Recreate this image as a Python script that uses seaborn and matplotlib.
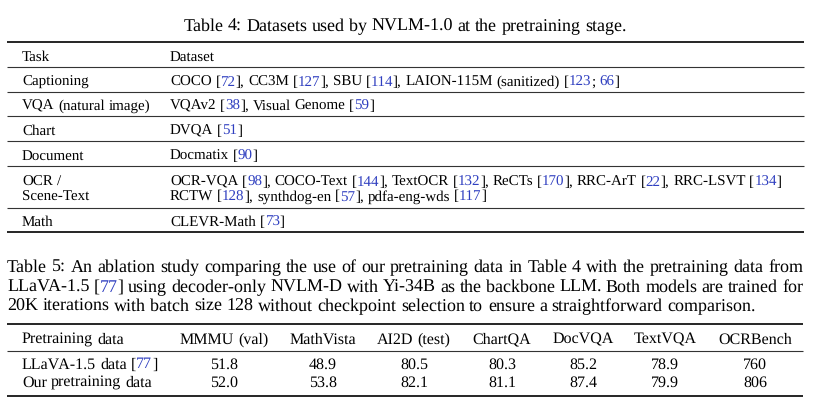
import re
import numpy as np
import pandas as pd
import matplotlib
matplotlib.use("Agg")
import matplotlib.pyplot as plt
import seaborn as sns

# Table 4 data
tab4_title = "Table 4: Datasets used by NVLM-1.0 at the pretraining stage."
tasks = ["Task", "Captioning", "VQA (natural image)", "Chart", "Document",
         "OCR /\nScene-Text", "Math"]
# citation numbers in {} are drawn blue
datasets = [
    "Dataset",
    "COCO [{72}], CC3M [{127}], SBU [{114}], LAION-115M (sanitized) [{123}; {66}]",
    "VQAv2 [{38}], Visual Genome [{59}]",
    "DVQA [{51}]",
    "Docmatix [{90}]",
    "OCR-VQA [{98}], COCO-Text [{144}], TextOCR [{132}], ReCTs [{170}], RRC-ArT [{22}], RRC-LSVT [{134}]\n"
    "RCTW [{128}], synthdog-en [{57}], pdfa-eng-wds [{117}]",
    "CLEVR-Math [{73}]",
]

# Table 5 data
tab5_caption = [
    "Table 5: An ablation study comparing the use of our pretraining data in Table 4 with the pretraining data from",
    "LLaVA-1.5 [{77}] using decoder-only NVLM-D with Yi-34B as the backbone LLM. Both models are trained for",
    "20K iterations with batch size 128 without checkpoint selection to ensure a straightforward comparison.",
]
columns = ["Pretraining data", "MMMU (val)", "MathVista", "AI2D (test)",
           "ChartQA", "DocVQA", "TextVQA", "OCRBench"]
row_names = ["LLaVA-1.5 data [{77}]", "Our pretraining data"]
llava_scores = [51.8, 48.9, 80.5, 80.3, 85.2, 78.9, 760]
our_scores = [52.0, 53.8, 82.1, 81.1, 87.4, 79.9, 806]

df5 = pd.DataFrame([llava_scores, our_scores], columns=columns[1:])

sns.set_theme(style="white")
plt.rcParams["font.family"] = ["Liberation Serif", "DejaVu Serif"]
plt.rcParams["text.hinting"] = "no_hinting"
plt.rcParams["text.hinting_factor"] = 1

W, H = 825, 402
fig = plt.figure(figsize=(W / 100, H / 100), dpi=100)
fig.patch.set_facecolor("white")
ax = fig.add_axes([0, 0, 1, 1])
ax.set_xlim(0, W)
ax.set_ylim(H, 0)
ax.axis("off")
renderer = fig.canvas.get_renderer()

BLUE = "#2f3fc0"
BLACK = "#000000"
CAP = 12.8    # caption size
BODY = 11.66  # table 5 text
SMALL = 10.9  # table 4 text

_cache = {}


def ink(s, size):
    key = (s, size)
    if key not in _cache:
        t = ax.text(0, 0, s, fontsize=size)
        _cache[key] = t.get_window_extent(renderer).width
        t.remove()
    return _cache[key]


def adv(s, size):
    # advance width, measured between two bars so bearings cancel
    return ink("|" + s + "|", size) - ink("||", size)


def pieces(word):
    out = []
    for p in re.split(r"(\{[^}]*\})", word):
        if not p:
            continue
        if p.startswith("{"):
            out.append((p[1:-1], BLUE))
        else:
            out.append((p, BLACK))
    return out


def draw_line(x, y, markup, size, width=None, ha="left"):
    words = [pieces(w) for w in markup.split(" ")]
    widths = [adv("".join(s for s, c in wd), size) for wd in words]
    space = adv(" ", size)
    if width is not None and len(words) > 1:
        space = (width - sum(widths)) / (len(words) - 1)
    total = sum(widths) + space * (len(words) - 1)
    if ha == "center":
        x = x - total / 2
    for wd, ww in zip(words, widths):
        prefix = ""
        for s, c in wd:
            off = adv(prefix, size) if prefix else 0
            ax.text(x + off, y, s, fontsize=size, color=c, va="baseline", ha="left")
            prefix += s
        x += ww + space


def rule(y, x0, x1, lw=0.8, color="#333333"):
    ax.plot([x0, x1], [y, y], color=color, lw=lw, solid_capstyle="butt")


# ---- Table 4 ----
draw_line(405, 31, tab4_title, CAP, ha="center")
rule(43, 7, 804, lw=1.2, color=BLACK)
rule(233, 7, 804, lw=1.2, color=BLACK)
for yr in [68, 93, 117, 142, 167, 209]:
    rule(yr, 7, 804)

baselines4 = [61, 86, 110, 135, 160, 186, 226]
for task, ds, yb in zip(tasks, datasets, baselines4):
    for k, (tl, dl) in enumerate(zip(task.split("\n"), ds.split("\n"))):
        draw_line(22, yb + k * 14.5, tl, SMALL)
        draw_line(170, yb + k * 14.5, dl, SMALL)

# ---- Table 5 ----
cap_base = [272, 292, 311]
for i, (line, yb) in enumerate(zip(tab5_caption, cap_base)):
    draw_line(7, yb, line, CAP, width=796 if i < 2 else None)

rule(325, 7, 803, lw=1.2, color=BLACK)
rule(352, 7, 803)
rule(397, 7, 803, lw=1.2, color=BLACK)

col_x = [224, 323, 414, 502, 583, 665, 755]
draw_line(22, 343.5, columns[0], BODY)
for cx, name in zip(col_x, columns[1:]):
    draw_line(cx, 343.5, name, BODY, ha="center")

for r, (name, yb) in enumerate(zip(row_names, [368.5, 386.5])):
    draw_line(22, yb, name, BODY)
    for cx, col in zip(col_x, columns[1:]):
        v = df5.loc[r, col]
        s = f"{int(v)}" if col == "OCRBench" else f"{v:.1f}"
        ax.text(cx, yb, s, fontsize=BODY, color=BLACK, ha="center", va="baseline")

fig.savefig("out.png", dpi=100, facecolor="white")
